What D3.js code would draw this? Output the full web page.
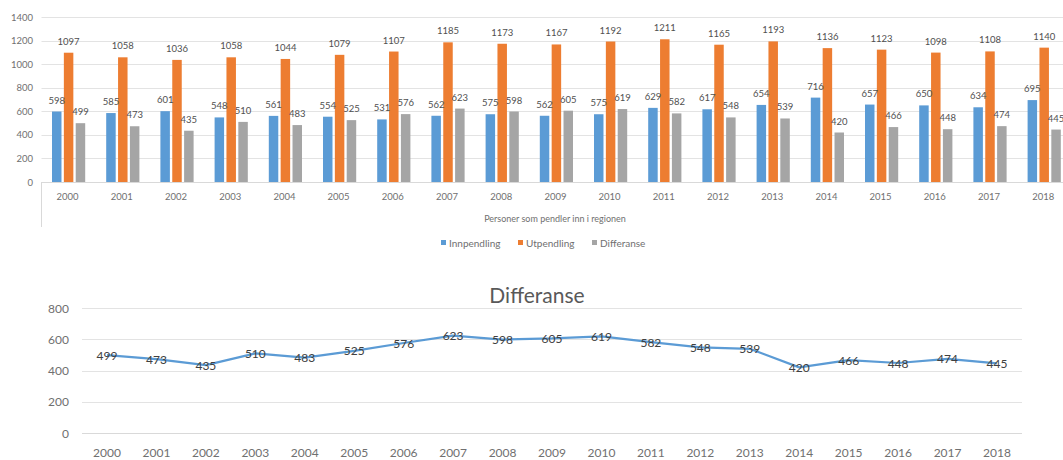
<!DOCTYPE html>
<html>
<head>
<meta charset="utf-8">
<script src="https://cdn.jsdelivr.net/npm/d3@7"></script>
<style>
  body { margin: 0; background: #fff; }
  svg { display: block; font-family: Lato, "Open Sans", sans-serif; }
</style>
</head>
<body>
<div id="chart"></div>
<script>
const years = ["2000","2001","2002","2003","2004","2005","2006","2007","2008","2009",
               "2010","2011","2012","2013","2014","2015","2016","2017","2018"];
const innpendling = [598, 585, 601, 548, 561, 554, 531, 562, 575, 562, 575, 629, 617, 654, 716, 657, 650, 634, 695];
const utpendling = [1097, 1058, 1036, 1058, 1044, 1079, 1107, 1185, 1173, 1167, 1192, 1211, 1165, 1193, 1136, 1123, 1098, 1108, 1140];
const differanse = [499, 473, 435, 510, 483, 525, 576, 623, 598, 605, 619, 582, 548, 539, 420, 466, 448, 474, 445];
const seriesNames = ["Innpendling", "Utpendling", "Differanse"];
const barTicks = [0, 200, 400, 600, 800, 1000, 1200, 1400];
const lineTicks = [0, 200, 400, 600, 800];

const width = 1063, height = 460;
const colors = ["#5b9bd5", "#ed7d31", "#a5a5a5"];

const svg = d3.select("#chart")
    .append("svg")
    .attr("width", width)
    .attr("height", height);

// ---------- top: grouped bar chart ----------
const series = [innpendling, utpendling, differanse];
const rows = [];
years.forEach((yr, i) => {
    seriesNames.forEach((s, j) => rows.push({year: yr, name: s, value: series[j][i], j: j}));
});

const x0 = d3.scaleBand()
    .domain(years)
    .range([41.5, 41.5 + 19 * 54.2]);

const x1 = d3.scaleBand()
    .domain(seriesNames)
    .range([10.5, 43.7])
    .paddingInner(0.2);

const y = d3.scaleLinear()
    .domain([0, 1400])
    .range([182, 17]);

// gridlines
svg.append("g")
    .selectAll("line")
    .data(barTicks.slice(1))
    .enter()
    .append("line")
    .attr("x1", 41.5)
    .attr("x2", width)
    .attr("y1", d => Math.round(y(d)) + 0.5)
    .attr("y2", d => Math.round(y(d)) + 0.5)
    .attr("stroke", "#e3e3e3");

// y axis labels
svg.append("g")
    .selectAll("text")
    .data(barTicks)
    .enter()
    .append("text")
    .attr("x", 33)
    .attr("y", d => y(d) + 3.5)
    .attr("text-anchor", "end")
    .attr("fill", "#707070")
    .style("font-size", "9.5px")
    .text(d => d);

// bars
svg.append("g")
    .selectAll("rect")
    .data(rows)
    .enter()
    .append("rect")
    .attr("x", d => x0(d.year) + x1(d.name))
    .attr("y", d => y(d.value))
    .attr("width", x1.bandwidth())
    .attr("height", d => y(0) - y(d.value))
    .attr("fill", d => colors[d.j]);

// bar labels
svg.append("g")
    .selectAll("text")
    .data(rows)
    .enter()
    .append("text")
    .attr("x", d => x0(d.year) + x1(d.name) + x1.bandwidth() / 2)
    .attr("y", d => y(d.value) - 8)
    .attr("text-anchor", "middle")
    .attr("fill", "#505050")
    .style("font-size", "9.5px")
    .text(d => d.value);

// category axis
svg.append("line")
    .attr("x1", 41.5).attr("x2", width)
    .attr("y1", 182.5).attr("y2", 182.5)
    .attr("stroke", "#d9d9d9");
svg.append("line")
    .attr("x1", 41.5).attr("x2", 41.5)
    .attr("y1", 182).attr("y2", 227)
    .attr("stroke", "#d9d9d9");

svg.append("g")
    .selectAll("text")
    .data(years)
    .enter()
    .append("text")
    .attr("x", d => x0(d) + x0.bandwidth() / 2 - 1)
    .attr("y", 200)
    .attr("text-anchor", "middle")
    .attr("fill", "#707070")
    .style("font-size", "9.5px")
    .text(d => d);

// axis title
svg.append("text")
    .attr("x", 555)
    .attr("y", 222)
    .attr("text-anchor", "middle")
    .attr("fill", "#707070")
    .style("font-size", "9px")
    .text("Personer som pendler inn i regionen");

// legend
const legendX = [441, 518, 592];
seriesNames.forEach((s, i) => {
    svg.append("rect")
        .attr("x", legendX[i])
        .attr("y", 240)
        .attr("width", 5)
        .attr("height", 5)
        .attr("fill", colors[i]);
    svg.append("text")
        .attr("x", legendX[i] + 8)
        .attr("y", 246.5)
        .attr("fill", "#707070")
        .style("font-size", "10px")
        .text(s);
});

// ---------- bottom: line chart ----------
const lx = d3.scalePoint()
    .domain(years)
    .range([107, 997]);

const ly = d3.scaleLinear()
    .domain([0, 800])
    .range([433, 308]);

svg.append("g")
    .selectAll("line")
    .data(lineTicks)
    .enter()
    .append("line")
    .attr("x1", 82)
    .attr("x2", 1022)
    .attr("y1", d => Math.round(ly(d)) + 0.5)
    .attr("y2", d => Math.round(ly(d)) + 0.5)
    .attr("stroke", d => d === 0 ? "#d9d9d9" : "#e3e3e3");

svg.append("g")
    .selectAll("text")
    .data(lineTicks)
    .enter()
    .append("text")
    .attr("x", 69)
    .attr("y", d => ly(d) + 4.5)
    .attr("text-anchor", "end")
    .attr("fill", "#707070")
    .style("font-size", "12px")
    .text(d => d);

svg.append("g")
    .selectAll("text")
    .data(years)
    .enter()
    .append("text")
    .attr("x", d => lx(d))
    .attr("y", 457)
    .attr("text-anchor", "middle")
    .attr("fill", "#707070")
    .style("font-size", "12px")
    .text(d => d);

svg.append("text")
    .attr("x", 537)
    .attr("y", 303)
    .attr("text-anchor", "middle")
    .attr("fill", "#595959")
    .style("font-size", "21px")
    .text("Differanse");

const line = d3.line()
    .x((d, i) => lx(years[i]))
    .y(d => ly(d));

svg.append("path")
    .datum(differanse)
    .attr("d", line)
    .attr("fill", "none")
    .attr("stroke", "#5b9bd5")
    .attr("stroke-width", 2.25)
    .attr("stroke-linejoin", "round");

svg.append("g")
    .selectAll("text")
    .data(differanse)
    .enter()
    .append("text")
    .attr("x", (d, i) => lx(years[i]))
    .attr("y", d => ly(d) + 4.5)
    .attr("text-anchor", "middle")
    .attr("fill", "#404040")
    .style("font-size", "12px")
    .text(d => d);
</script>
</body>
</html>
